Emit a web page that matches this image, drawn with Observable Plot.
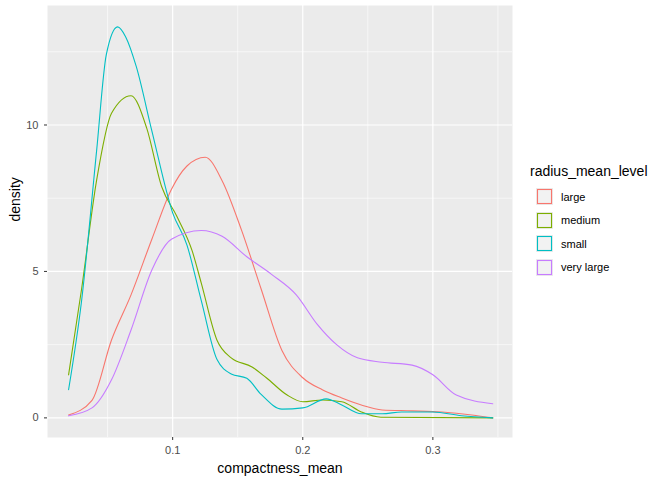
<!doctype html>
<html><head><style>
body{margin:0;font-family:"Liberation Sans",Arial,sans-serif;background:#fff}
#wrap{position:relative;width:672px;height:480px}
#legend{position:absolute;left:530px;top:163px;font-size:13px;color:#000}
#legend .row{display:flex;align-items:center;height:23.5px;font-size:11px}
#legend svg{margin:0 8px 0 6px}
</style></head><body>
<div id="wrap"><div id="myplot"></div><div id="legend"></div></div>
<script src="https://cdn.jsdelivr.net/npm/d3@7"></script>
<script src="https://cdn.jsdelivr.net/npm/@observablehq/plot@0.6"></script>
<script>
const levels = ["large", "medium", "small", "very large"];
const colors = ["#F8766D", "#7CAE00", "#00BFC4", "#C77CFF"];

const largeX = [0.02,0.038,0.053,0.068,0.084,0.099,0.111,0.125,0.138,0.153,0.168,0.184,0.2,0.215,0.23,0.245,0.261,0.284,0.307,0.33,0.346];
const largeY = [0.1,0.6,2.66,4.2,6.1,7.8,8.6,8.9,8.1,6.4,4.4,2.3,1.37,0.96,0.68,0.44,0.27,0.24,0.2,0.1,0.0];
const mediumX = [0.02,0.03,0.0415,0.053,0.068,0.08,0.0915,0.103,0.115,0.122,0.134,0.145,0.161,0.172,0.188,0.2,0.215,0.23,0.245,0.26,0.346];
const mediumY = [1.47,4.4,8.1,10.4,11.0,9.9,7.9,6.9,5.7,4.6,2.66,2.05,1.74,1.37,0.78,0.55,0.61,0.55,0.2,0.02,0.0];
const smallX = [0.02,0.03,0.0415,0.049,0.0577,0.064,0.072,0.084,0.1,0.111,0.122,0.134,0.145,0.157,0.168,0.184,0.2,0.218,0.23,0.245,0.261,0.276,0.3,0.322,0.346];
const smallY = [0.96,4.0,9.1,12.4,13.35,13.0,12.0,9.8,7.0,5.9,4.0,2.0,1.5,1.35,0.8,0.3,0.34,0.65,0.44,0.14,0.14,0.2,0.2,0.07,0.0];
const vlargeX = [0.02,0.038,0.053,0.068,0.084,0.099,0.122,0.138,0.157,0.176,0.195,0.211,0.226,0.242,0.261,0.284,0.3,0.318,0.346];
const vlargeY = [0.07,0.34,1.3,3.0,5.05,6.1,6.4,6.2,5.5,4.9,4.2,3.2,2.5,2.05,1.9,1.8,1.47,0.78,0.48];

const seriesX = [largeX, mediumX, smallX, vlargeX];
const seriesY = [largeY, mediumY, smallY, vlargeY];
const rows = levels.flatMap((lv, i) => seriesX[i].map((x, j) => ({level: lv, x, y: seriesY[i][j]})));

const plot = Plot.plot({
  width: 520, height: 480,
  marginLeft: 47, marginRight: 8, marginTop: 5, marginBottom: 43,
  style: {fontFamily: "Liberation Sans, Arial, sans-serif", fontSize: "11px"},
  x: {domain: [0.0038, 0.3612], label: null},
  y: {domain: [-0.67, 14.08], label: null},
  color: {domain: levels, range: colors},
  marks: [
    Plot.frame({fill: "#EBEBEB", stroke: null}),
    Plot.ruleX([0.05, 0.15, 0.25, 0.35], {stroke: "#fff", strokeWidth: 0.6}),
    Plot.ruleY([2.5, 7.5, 12.5], {stroke: "#fff", strokeWidth: 0.6}),
    Plot.ruleX([0.1, 0.2, 0.3], {stroke: "#fff", strokeWidth: 1.2}),
    Plot.ruleY([0, 5, 10], {stroke: "#fff", strokeWidth: 1.2}),
    Plot.line(rows, {x: "x", y: "y", z: "level", stroke: "level", strokeWidth: 1.1, curve: "monotone-x"}),
    Plot.axisX({ticks: [0.1, 0.2, 0.3], tickFormat: d => String(d), tickSize: 3, stroke: "#333", fill: "#4D4D4D", label: null}),
    Plot.axisY({ticks: [0, 5, 10], tickSize: 3, stroke: "#333", fill: "#4D4D4D", label: null}),
    Plot.text(["compactness_mean"], {frameAnchor: "bottom", dy: 35, fontSize: 14, fill: "#000"}),
    Plot.text(["density"], {frameAnchor: "left", dx: -32, rotate: -90, fontSize: 14, fill: "#000"})
  ]
});
document.querySelector("#myplot").append(plot);

const lg = document.querySelector("#legend");
lg.innerHTML = `<div style="font-size:14px;margin-bottom:6px">radius_mean_level</div>` +
  levels.map((lv, i) => `<div class="row"><svg width="17" height="17"><rect width="17" height="17" fill="#EBEBEB"/><rect x="1.5" y="1.5" width="14" height="14" fill="#F2F2F2" stroke="${colors[i]}" stroke-width="1.1"/></svg>${lv}</div>`).join("");
</script>
</body></html>
